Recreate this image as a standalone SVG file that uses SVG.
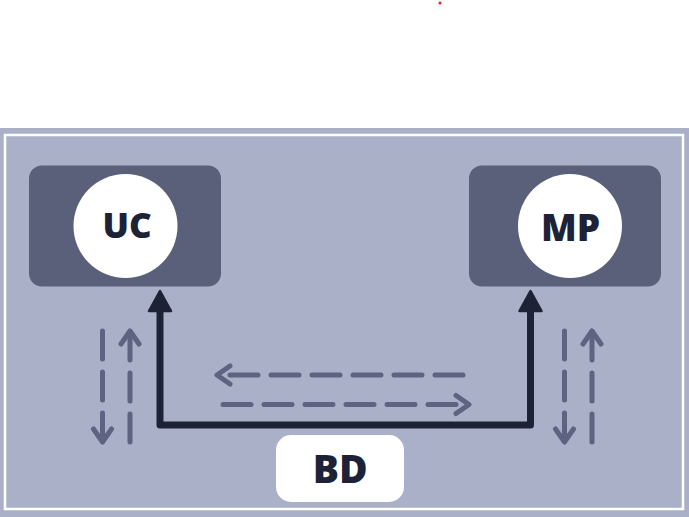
<svg xmlns="http://www.w3.org/2000/svg" width="689" height="517" viewBox="0 0 689 517">
  <defs>
    <style>
      .panel { fill: #5a6079; }
      .disc { fill: #ffffff; }
      .lbl { font-family: "Open Sans", "Noto Sans", "DejaVu Sans", sans-serif; font-weight: 800; fill: #1e2236; text-anchor: middle; }
      .dash { fill: none; stroke: #5d6380; stroke-width: 5; stroke-linecap: round; stroke-dasharray: 28 13; }
      .main { fill: none; stroke: #1e2236; stroke-width: 7; stroke-linejoin: round; }
      .head { fill: #1e2236; stroke: #1e2236; stroke-width: 2.5; stroke-linejoin: round; }
    </style>
    <marker id="chev" markerUnits="userSpaceOnUse" viewBox="-20 -15 30 30" markerWidth="30" markerHeight="30" refX="0" refY="0" orient="auto" overflow="visible">
      <path d="M -13 -9 L 0 0 L -13 9" fill="none" stroke="#5d6380" stroke-width="5" stroke-linecap="round" stroke-linejoin="round"/>
    </marker>
  </defs>

  <rect x="0" y="0" width="689" height="517" fill="#ffffff"/>
  <circle cx="440" cy="3" r="1.5" fill="#e8202a"/>

  <g id="frame">
    <rect x="0" y="128" width="689" height="389" fill="#abb0c9"/>
    <rect x="5" y="135" width="678" height="374" fill="none" stroke="#ffffff" stroke-width="2.5"/>
  </g>

  <g id="connectors">
    <path class="main" d="M160 311 L160 425 L530.5 425 L530.5 311"/>
    <polygon class="head" points="160,291 149,311 171,311"/>
    <polygon class="head" points="530.5,291 519.5,311 541.5,311"/>
    <path class="dash" d="M463 375 L217 375" marker-end="url(#chev)"/>
    <path class="dash" d="M223 404.5 L469 404.5" marker-end="url(#chev)"/>
    <path class="dash" d="M102.5 331 L102.5 442" marker-end="url(#chev)"/>
    <path class="dash" d="M130 442 L130 331" marker-end="url(#chev)"/>
    <path class="dash" d="M564.5 331 L564.5 442" marker-end="url(#chev)"/>
    <path class="dash" d="M592 442 L592 331" marker-end="url(#chev)"/>
  </g>

  <g id="UC">
    <rect class="panel" x="29" y="165.5" width="192" height="121" rx="13"/>
    <circle class="disc" cx="125.5" cy="226" r="52"/>
    <text class="lbl" x="127.2" y="237.5" font-size="35">UC</text>
  </g>

  <g id="MP">
    <rect class="panel" x="469" y="165.5" width="192" height="121" rx="13"/>
    <circle class="disc" cx="570" cy="226" r="52"/>
    <text class="lbl" x="570.5" y="240.5" font-size="37">MP</text>
  </g>

  <g id="BD">
    <rect x="276" y="435" width="128" height="67" rx="15" fill="#ffffff"/>
    <text class="lbl" x="340.3" y="482.5" font-size="39">BD</text>
  </g>
</svg>
